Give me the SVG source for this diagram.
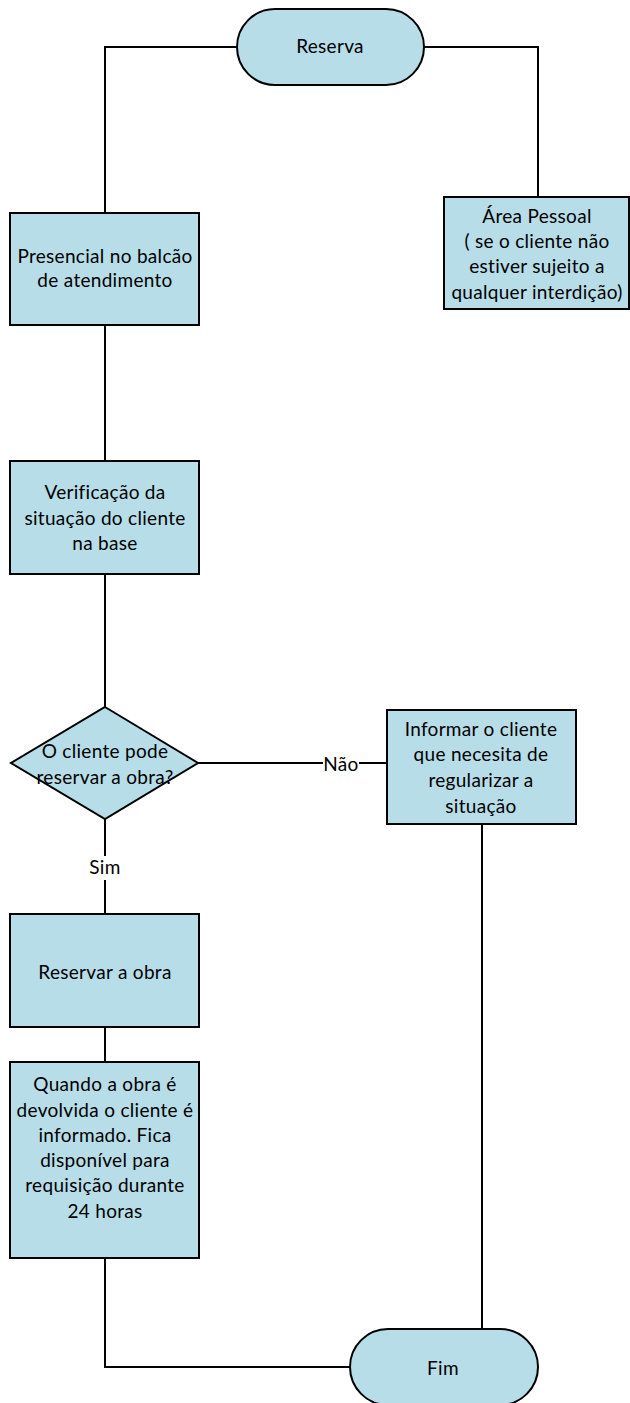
<svg xmlns="http://www.w3.org/2000/svg" width="630" height="1403" viewBox="0 0 630 1403">
<style>
.n{fill:#b7dde8;stroke:#000;stroke-width:2}
.c{fill:none;stroke:#000;stroke-width:2}
text{font-family:Lato,"Liberation Sans",sans-serif;font-size:19px;letter-spacing:0.3px;fill:#000;text-anchor:middle}
.lb{fill:#fff}
</style>
<rect width="630" height="1403" fill="#fff"/>
<g id="connectors">
<polyline class="c" points="237,47 105,47 105,213"/>
<polyline class="c" points="423,47 538,47 538,197"/>
<line class="c" x1="105" y1="325" x2="105" y2="461"/>
<line class="c" x1="105" y1="574" x2="105" y2="707"/>
<line class="c" x1="198" y1="763" x2="387" y2="763"/>
<line class="c" x1="105" y1="819" x2="105" y2="914"/>
<line class="c" x1="105" y1="1027" x2="105" y2="1062"/>
<polyline class="c" points="105,1258 105,1367 350,1367"/>
<line class="c" x1="482" y1="824" x2="482" y2="1329"/>
<rect class="lb" x="323" y="752" width="36" height="24"/>
<text x="341" y="771">Não</text>
<rect class="lb" x="88" y="856" width="34" height="24"/>
<text x="105" y="874">Sim</text>
</g>
<g id="reserva">
<rect class="n" x="237" y="9" width="187" height="76" rx="38"/>
<text x="330" y="53">Reserva</text>
</g>
<g id="presencial">
<rect class="n" x="10" y="213" width="189" height="112"/>
<text x="105" y="263">Presencial no balcão</text>
<text x="105" y="287">de atendimento</text>
</g>
<g id="area">
<rect class="n" x="444" y="197" width="185" height="112"/>
<text x="537" y="223">Área Pessoal</text>
<text x="537" y="248">( se o cliente não</text>
<text x="537" y="273">estiver sujeito a</text>
<text x="537" y="299">qualquer interdição)</text>
</g>
<g id="verificacao">
<rect class="n" x="10" y="461" width="189" height="113"/>
<text x="105" y="499">Verificação da</text>
<text x="105" y="525">situação do cliente</text>
<text x="105" y="550">na base</text>
</g>
<g id="decisao">
<polygon class="n" points="105,707 198,763 105,819 11,763"/>
<text x="105" y="758">O cliente pode</text>
<text x="105" y="784">reservar a obra?</text>
</g>
<g id="informar">
<rect class="n" x="387" y="710" width="189" height="114"/>
<text x="481" y="736">Informar o cliente</text>
<text x="481" y="761">que necesita de</text>
<text x="481" y="787">regularizar a</text>
<text x="481" y="813">situação</text>
</g>
<g id="reservar">
<rect class="n" x="10" y="914" width="189" height="113"/>
<text x="105" y="979">Reservar a obra</text>
</g>
<g id="quando">
<rect class="n" x="10" y="1062" width="189" height="196"/>
<text x="105" y="1091">Quando a obra é</text>
<text x="105" y="1117">devolvida o cliente é</text>
<text x="105" y="1142">informado. Fica</text>
<text x="105" y="1167">disponível para</text>
<text x="105" y="1192">requisição durante</text>
<text x="105" y="1218">24 horas</text>
</g>
<g id="fim">
<rect class="n" x="350" y="1329" width="188" height="76" rx="38"/>
<text x="443" y="1375">Fim</text>
</g>
</svg>
